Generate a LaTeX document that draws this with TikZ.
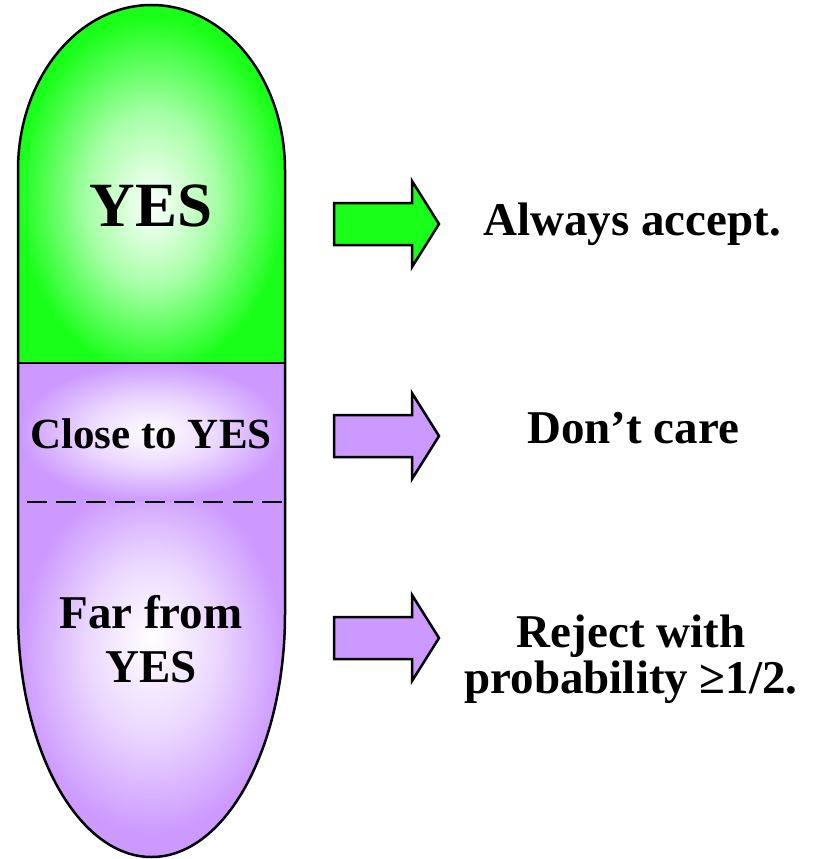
\documentclass[tikz,border=0pt]{standalone}
\usepackage{fontspec}
\setmainfont{Liberation Serif}
\usepackage{tikz}
\definecolor{pillgreen}{RGB}{25,255,25}
\definecolor{pillpurple}{RGB}{204,153,255}
\pgfdeclareradialshading[pillgreen]{greenglow}{\pgfpoint{0bp}{-3bp}}
  {color(0bp)=(white); color(12bp)=(white!62!pillgreen);
   color(25bp)=(pillgreen); color(50bp)=(pillgreen)}
\pgfdeclareradialshading[pillpurple]{purpleglow}{\pgfpoint{0bp}{0bp}}
  {color(0bp)=(white); color(12bp)=(white!62!pillpurple);
   color(25bp)=(pillpurple); color(50bp)=(pillpurple)}
\pgfdeclareradialshading[pillpurple]{purpleglowup}{\pgfpoint{0bp}{6bp}}
  {color(0bp)=(white); color(12bp)=(white!62!pillpurple);
   color(25bp)=(pillpurple); color(50bp)=(pillpurple)}
\tikzset{pill/.style={line width=2.5pt,line join=round},
         blockarrow/.style={line width=2.5pt,line join=miter},
         dashline/.style={line width=2.2pt,dash pattern=on 20pt off 9.4pt},
         bigword/.style={font=\bfseries\fontsize{63}{70}\selectfont,inner sep=0pt},
         word/.style={font=\bfseries\fontsize{47}{54}\selectfont,inner sep=0pt,
           align=center}}

\begin{document}
\begin{tikzpicture}[x=1pt,y=1pt]
  \useasboundingbox (0,0) rectangle (825,-859);
  % capsule
  \shade[shading=greenglow] (18,-363) -- (18,-170)
    arc[start angle=180,end angle=0,x radius=133.5,y radius=165] -- (285,-363) -- cycle;
  \shade[shading=purpleglow] (18,-363) rectangle (285,-502);
  \shade[shading=purpleglowup] (18,-502) -- (18,-614)
    arc[start angle=180,end angle=360,x radius=133.5,y radius=243] -- (285,-502) -- cycle;
  \draw[pill] (18,-614) -- (18,-170)
    arc[start angle=180,end angle=0,x radius=133.5,y radius=165] -- (285,-614)
    arc[start angle=0,end angle=-180,x radius=133.5,y radius=243] -- cycle;
  \draw[pill] (18,-363) -- (285,-363);
  \draw[dashline] (27,-502) -- (283,-502);
  \node[bigword,anchor=base] (yes) at (151,-226) {YES};
  \node[word,font=\bfseries\fontsize{43}{50}\selectfont,anchor=base] (close)
    at (151,-448) {Close to YES};
  \node[word,anchor=base] (far) at (151,-682) {Far from\\YES};
  % arrows
  \foreach \ay/\col in {224/pillgreen,436/pillpurple,638/pillpurple}
    \draw[blockarrow,fill=\col,yshift=-\ay] (334,21) -- (412,21) -- (412,43)
      -- (439,0) -- (412,-43) -- (412,-21) -- (334,-21) -- cycle;
  \node[word,anchor=base] (accept) at (632,-235) {Always accept.};
  \node[word,anchor=base] (dontcare) at (633,-443) {Don’t care};
  \node[word,font=\bfseries\fontsize{47}{46}\selectfont,anchor=base] (reject)
    at (631,-693) {Reject with\\probability ≥1/2.};
\end{tikzpicture}
\end{document}
